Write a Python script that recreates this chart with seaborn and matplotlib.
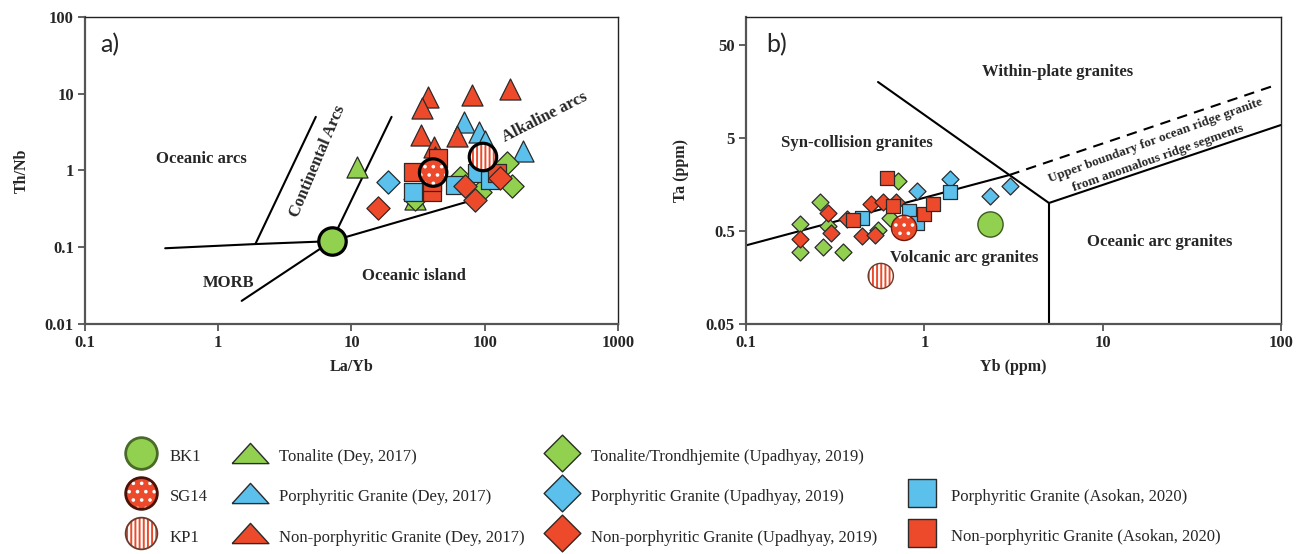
import matplotlib
matplotlib.use("Agg")
import matplotlib.pyplot as plt
import seaborn as sns
from matplotlib.markers import MarkerStyle
from matplotlib.collections import PathCollection
from matplotlib.transforms import IdentityTransform
from matplotlib.legend_handler import HandlerPathCollection, HandlerTuple
from matplotlib.ticker import NullLocator, FixedLocator, FixedFormatter

# ---------------- Panel a: La/Yb vs Th/Nb ----------------
a_bk1_x = [7.1];   a_bk1_y = [0.12]
a_sg14_x = [41];   a_sg14_y = [0.94]
a_kp1_x = [97];    a_kp1_y = [1.5]
a_ton_dey_x = [11, 30];                 a_ton_dey_y = [1.1, 0.42]
a_por_dey_x = [70, 91, 194, 100];       a_por_dey_y = [4.3, 3.2, 1.8, 2.4]
a_np_dey_x = [37.5, 33.7, 80, 155, 33, 62, 41.6, 42]
a_np_dey_y = [9.1, 6.6, 9.7, 11.5, 2.9, 2.8, 2.0, 1.5]
a_ton_upa_x = [147, 160, 30, 92, 65];   a_ton_upa_y = [1.27, 0.62, 0.42, 0.52, 0.81]
a_por_upa_x = [18.7];                   a_por_upa_y = [0.70]
a_np_upa_x = [15.8, 84, 71, 130];       a_np_upa_y = [0.32, 0.41, 0.62, 0.81]
a_por_aso_x = [29, 60, 87, 110];        a_por_aso_y = [0.53, 0.64, 0.94, 0.76]
a_np_aso_x = [29, 44.5, 40, 40, 124];   a_np_aso_y = [0.97, 1.47, 0.53, 0.70, 0.94]

# field boundaries, panel a
a_bound_x = [[0.4, 1.9, 7.1], [1.9, 5.4], [7.1, 20], [1.5, 7.1], [7.1, 85]]
a_bound_y = [[0.097, 0.11, 0.12], [0.11, 5.0], [0.12, 5.0], [0.02, 0.12], [0.12, 0.42]]

# ---------------- Panel b: Yb vs Ta ----------------
b_bk1_x = [2.35];  b_bk1_y = [0.59]
b_sg14_x = [0.77]; b_sg14_y = [0.54]
b_kp1_x = [0.57];  b_kp1_y = [0.164]
b_ton_upa_x = [0.20, 0.20, 0.26, 0.27, 0.35, 0.29, 0.55, 0.64, 0.71]
b_ton_upa_y = [0.59, 0.30, 1.02, 0.34, 0.30, 0.57, 0.51, 0.69, 1.72]
b_np_upa_x = [0.20, 0.29, 0.30, 0.37, 0.45, 0.53, 0.50, 0.59, 0.69]
b_np_upa_y = [0.41, 0.78, 0.48, 0.67, 0.44, 0.45, 0.97, 1.02, 1.02]
b_por_upa_x = [0.91, 1.40, 2.35, 3.04]; b_por_upa_y = [1.35, 1.81, 1.19, 1.52]
b_np_aso_x = [0.40, 0.67, 0.99, 1.12, 0.62]; b_np_aso_y = [0.66, 0.93, 0.76, 0.98, 1.86]
b_por_aso_x = [0.45, 0.82, 0.91, 1.40];  b_por_aso_y = [0.69, 0.82, 0.61, 1.31]

# field boundaries, panel b
b_bound_x = [[0.1, 3], [0.55, 5], [5, 5], [5, 100]]
b_bound_y = [[0.35, 2.0], [20, 1.0], [1.0, 0.05], [1.0, 6.9]]
b_dash_x = [3, 94]; b_dash_y = [2.0, 18.6]

# ---------------- ticks ----------------
a_xticks = [0.1, 1, 10, 100, 1000]; a_xticklabels = ['0.1', '1', '10', '100', '1000']
a_yticks = [0.01, 0.1, 1, 10, 100]; a_yticklabels = ['0.01', '0.1', '1', '10', '100']
b_xticks = [0.1, 1, 10, 100];       b_xticklabels = ['0.1', '1', '10', '100']
b_yticks = [0.05, 0.5, 5, 50];      b_yticklabels = ['0.05', '0.5', '5', '50']

legend_labels = ['BK1', 'SG14', 'KP1',
                 'Tonalite (Dey, 2017)', 'Porphyritic Granite (Dey, 2017)',
                 'Non-porphyritic Granite (Dey, 2017)',
                 'Tonalite/Trondhjemite (Upadhyay, 2019)', 'Porphyritic Granite (Upadhyay, 2019)',
                 'Non-porphyritic Granite (Upadhyay, 2019)',
                 'Porphyritic Granite (Asokan, 2020)', 'Non-porphyritic Granite (Asokan, 2020)']

GREEN = '#92D050'
BLUE = '#5BC1EC'
RED = '#EC4A2A'
EDGE = '#2b2b2b'

sns.set_style("ticks")
plt.rcParams['font.family'] = ['Liberation Serif', 'DejaVu Serif']
plt.rcParams['font.weight'] = 'bold'
plt.rcParams['hatch.linewidth'] = 1.4

fig = plt.figure(figsize=(13.01, 5.54), dpi=100)
axA = fig.add_axes([0.0653, 0.4152, 0.4097, 0.5541])
axB = fig.add_axes([0.5734, 0.4152, 0.4112, 0.5541])

for ax in (axA, axB):
    ax.set_xscale('log')
    ax.set_yscale('log')


def pts(ax, x, y, marker, s, fc, ec=EDGE, lw=0.9, z=3, **kw):
    if fc == 'none':
        sns.scatterplot(x=x, y=y, ax=ax, marker=marker, s=s, facecolor='none',
                        edgecolor=ec, linewidth=lw, zorder=z, legend=False, **kw)
    else:
        sns.scatterplot(x=x, y=y, ax=ax, marker=marker, s=s, color=fc,
                        edgecolor=ec, linewidth=lw, zorder=z, legend=False, **kw)


# ---- panel a ----
for xs, ys in zip(a_bound_x, a_bound_y):
    axA.plot(xs, ys, color='black', lw=1.5, zorder=2)

TRI_A, SQ_A, DI_A, CIR_A = 230, 150, 140, 390
pts(axA, a_por_dey_x, a_por_dey_y, '^', TRI_A, BLUE, z=3)
pts(axA, a_np_dey_x, a_np_dey_y, '^', TRI_A, RED, z=3.1)
pts(axA, a_ton_dey_x, a_ton_dey_y, '^', TRI_A, GREEN, z=3.2)
pts(axA, a_ton_upa_x, a_ton_upa_y, 'D', DI_A, GREEN, z=3.3)
pts(axA, a_por_aso_x, a_por_aso_y, 's', SQ_A, BLUE, z=3.4)
pts(axA, a_np_aso_x, a_np_aso_y, 's', SQ_A, RED, z=3.5)
pts(axA, a_por_upa_x, a_por_upa_y, 'D', DI_A, BLUE, z=3.6)
pts(axA, a_np_upa_x, a_np_upa_y, 'D', DI_A, RED, z=3.7)
pts(axA, a_bk1_x, a_bk1_y, 'o', CIR_A, GREEN, ec='black', lw=2.3, z=6)
pts(axA, a_sg14_x, a_sg14_y, 'o', CIR_A, RED, ec='white', lw=0, z=6, hatch='..')
pts(axA, a_sg14_x, a_sg14_y, 'o', CIR_A, 'none', ec='black', lw=2.3, z=6.1)
pts(axA, a_kp1_x, a_kp1_y, 'o', CIR_A, 'white', ec=RED, lw=0, z=6, hatch='||||')
pts(axA, a_kp1_x, a_kp1_y, 'o', CIR_A, 'none', ec='black', lw=2.3, z=6.1)

lab = dict(ha='center', va='center', fontsize=12, fontweight='bold', zorder=8)
axA.text(0.75, 1.43, 'Oceanic arcs', **lab)
axA.text(5.6, 1.31, 'Continental Arcs', rotation=67, **lab)
axA.text(284, 4.88, 'Alkaline arcs', rotation=27, **lab)
axA.text(1.2, 0.034, 'MORB', **lab)
axA.text(29.4, 0.042, 'Oceanic island', **lab)
axA.text(0.028, 0.909, 'a)', transform=axA.transAxes, family='Lato', fontsize=18,
         fontweight='normal', ha='left', va='center')

# ---- panel b ----
for xs, ys in zip(b_bound_x, b_bound_y):
    axB.plot(xs, ys, color='black', lw=1.5, zorder=2)
axB.plot(b_dash_x, b_dash_y, color='black', lw=1.5, ls=(0, (5, 3.5)), zorder=2)

SQ_B, DI_B, CIR_B = 100, 75, 330
pts(axB, b_ton_upa_x, b_ton_upa_y, 'D', DI_B, GREEN, z=3)
pts(axB, b_np_upa_x, b_np_upa_y, 'D', DI_B, RED, z=3.1)
pts(axB, b_por_upa_x, b_por_upa_y, 'D', DI_B, BLUE, z=3.2)
pts(axB, b_por_aso_x, b_por_aso_y, 's', SQ_B, BLUE, z=3.3)
pts(axB, b_np_aso_x, b_np_aso_y, 's', SQ_B, RED, z=3.4)
pts(axB, b_bk1_x, b_bk1_y, 'o', CIR_B, GREEN, ec='#3d5a1e', lw=1.0, z=6)
pts(axB, b_sg14_x, b_sg14_y, 'o', CIR_B, RED, ec='white', lw=0, z=6, hatch='..')
pts(axB, b_sg14_x, b_sg14_y, 'o', CIR_B, 'none', ec='#6a1a0c', lw=1.0, z=6.1)
pts(axB, b_kp1_x, b_kp1_y, 'o', CIR_B, 'white', ec=RED, lw=0, z=6, hatch='||||')
pts(axB, b_kp1_x, b_kp1_y, 'o', CIR_B, 'none', ec='#6b3a2a', lw=1.0, z=6.1)

axB.text(5.59, 25.6, 'Within-plate granites', **lab)
axB.text(0.42, 4.42, 'Syn-collision granites', **lab)
axB.text(1.68, 0.256, 'Volcanic arc granites', **lab)
axB.text(20.9, 0.381, 'Oceanic arc granites', **lab)
small = dict(ha='center', va='center', fontsize=9.5, fontweight='bold', zorder=8,
             rotation_mode='anchor')
axB.text(19.9, 4.75, 'Upper boundary for ocean ridge granite', rotation=20, **small)
axB.text(20.4, 3.05, 'from anomalous ridge segments', rotation=19.5, **small)
axB.text(0.037, 0.909, 'b)', transform=axB.transAxes, family='Lato', fontsize=18,
         fontweight='normal', ha='left', va='center')


def style(ax, xt, xtl, yt, ytl, xlim, ylim, xlabel, ylabel, ypad):
    ax.set_xlim(xlim)
    ax.set_ylim(ylim)
    ax.xaxis.set_major_locator(FixedLocator(xt))
    ax.xaxis.set_major_formatter(FixedFormatter(xtl))
    ax.yaxis.set_major_locator(FixedLocator(yt))
    ax.yaxis.set_major_formatter(FixedFormatter(ytl))
    ax.xaxis.set_minor_locator(NullLocator())
    ax.yaxis.set_minor_locator(NullLocator())
    ax.tick_params(direction='out', length=5, width=1.3, color='#555555',
                   labelsize=12, pad=3)
    ax.set_xlabel(xlabel, fontsize=11.5, fontweight='bold', labelpad=6)
    ax.set_ylabel(ylabel, fontsize=11.5, fontweight='bold', labelpad=ypad)
    for side in ('left', 'bottom'):
        ax.spines[side].set_color('#555555')
        ax.spines[side].set_linewidth(1.6)
    for side in ('top', 'right'):
        ax.spines[side].set_color('#222222')
        ax.spines[side].set_linewidth(1.0)
        ax.spines[side].set_visible(True)


style(axA, a_xticks, a_xticklabels, a_yticks, a_yticklabels, (0.1, 1000), (0.01, 100),
      'La/Yb', 'Th/Nb', 11)
style(axB, b_xticks, b_xticklabels, b_yticks, b_yticklabels, (0.1, 100), (0.05, 100),
      'Yb (ppm)', 'Ta (ppm)', 12)


# ---------------- legend ----------------
def proxy(marker, s, fc, ec, lw, hatch=None):
    ms = MarkerStyle(marker)
    path = ms.get_path().transformed(ms.get_transform())
    pc = PathCollection([path], sizes=[s], facecolors=[fc], edgecolors=[ec], linewidths=[lw])
    pc.set_transform(IdentityTransform())
    if hatch is not None:
        pc.set_hatch(hatch)
    return pc


class HatchHandler(HandlerPathCollection):
    def update_prop(self, legend_handle, orig_handle, legend):
        super().update_prop(legend_handle, orig_handle, legend)
        legend_handle.set_edgecolor(orig_handle.get_edgecolor())


FLAT_TRI = [(-1, -0.55), (1, -0.55), (0, 0.55), (-1, -0.55)]
L_CIR, L_TRI, L_DI, L_SQ = 520, 700, 350, 400
h_bk1 = proxy('o', L_CIR, GREEN, '#4a6a2a', 2.0)
h_sg14 = (proxy('o', L_CIR, RED, 'white', 0, '..'), proxy('o', L_CIR, 'none', '#4a1208', 2.0))
h_kp1 = (proxy('o', L_CIR, 'white', RED, 0, '||||'), proxy('o', L_CIR, 'none', '#6b3a2a', 1.3))
h_tri = [proxy(FLAT_TRI, L_TRI, c, EDGE, 1.0) for c in (GREEN, BLUE, RED)]
h_di = [proxy('D', L_DI, c, EDGE, 1.0) for c in (GREEN, BLUE, RED)]
h_sq = [proxy('s', L_SQ, c, EDGE, 1.0) for c in (BLUE, RED)]

leg_kw = dict(frameon=False, borderpad=0, borderaxespad=0, handlelength=2.0,
              handleheight=1.2, handletextpad=0.74, labelspacing=1.32,
              scatterpoints=1, scatteryoffsets=[0.5], loc='upper left',
              prop={'family': 'Liberation Serif', 'size': 12, 'weight': 'normal'},
              handler_map={PathCollection: HatchHandler(), tuple: HandlerTuple(ndivide=1)},
              bbox_transform=fig.transFigure)
W, H = 1301.0, 554.0
fig.legend(handles=[h_bk1, h_sg14, h_kp1], labels=legend_labels[0:3],
           bbox_to_anchor=(124.3 / W, 1 - 447 / H), **leg_kw)
fig.legend(handles=h_tri, labels=legend_labels[3:6],
           bbox_to_anchor=(233.3 / W, 1 - 447 / H), **leg_kw)
fig.legend(handles=h_di, labels=legend_labels[6:9],
           bbox_to_anchor=(545.3 / W, 1 - 447 / H), **leg_kw)
fig.legend(handles=h_sq, labels=legend_labels[9:11],
           bbox_to_anchor=(905.3 / W, 1 - 487 / H), **leg_kw)

fig.savefig('out.png', dpi=100)
